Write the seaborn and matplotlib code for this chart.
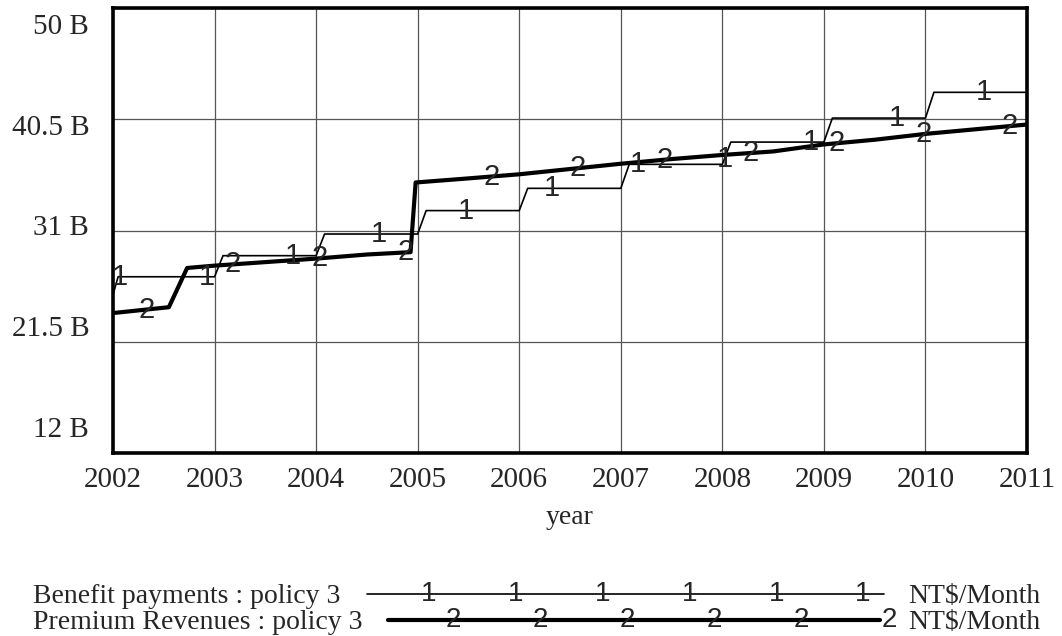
import matplotlib
matplotlib.use('Agg')
import matplotlib.pyplot as plt
from matplotlib.lines import Line2D
import seaborn as sns
import numpy as np

# Data (NT$/Month, in billions)
years = [2002, 2003, 2004, 2005, 2006, 2007, 2008, 2009, 2010]
benefit = [27.05, 28.85, 30.7, 32.7, 34.6, 36.65, 38.55, 40.6, 42.8]
benefit_start = 25.5

premium_t = [2002.0, 2002.55, 2002.73, 2003.0, 2003.5, 2004.0, 2004.5, 2004.93,
             2004.98, 2005.5, 2006.0, 2006.5, 2007.0, 2007.5, 2008.0, 2008.5,
             2009.0, 2009.5, 2010.0, 2010.5, 2011.0]
premium = [23.95, 24.45, 27.8, 28.0, 28.3, 28.6, 28.95, 29.15,
           35.1, 35.45, 35.8, 36.25, 36.7, 37.1, 37.45, 37.75,
           38.35, 38.75, 39.25, 39.65, 40.05]

y_ticks = [12, 21.5, 31, 40.5, 50]
y_labels = ['12 B', '21.5 B', '31 B', '40.5 B', '50 B']
x_ticks = list(range(2002, 2012))

serif = 'Liberation Serif'
sans = 'Liberation Sans'

sns.set_style('white')
plt.rcParams['font.family'] = [serif, 'DejaVu Sans']

fig = plt.figure(figsize=(10.62, 6.36), dpi=100)
ax = fig.add_axes([113 / 1062, 1 - 453 / 636, 914 / 1062, 445 / 636])

# benefit payments change once a year, with a one-month ramp (Vensim output)
bt = [2002.0, 2002.05]
bv = [benefit_start, benefit[0]]
for i in range(1, len(years)):
    bt += [years[i], years[i] + 1 / 12]
    bv += [benefit[i - 1], benefit[i]]
bt.append(2011.0)
bv.append(benefit[-1])

sns.lineplot(x=bt, y=bv, ax=ax, color='black', lw=1.2, sort=False, estimator=None)
sns.lineplot(x=premium_t, y=premium, ax=ax, color='black', lw=3.0, sort=False, estimator=None)

# numbered markers along the lines
t1 = 2002.07 + 0.85 * np.arange(11)
t2 = 2002.33 + 0.85 * np.arange(11)
for t, v in zip(t1, np.interp(t1, bt, bv)):
    ax.text(t, v, '1', ha='center', va='center', fontsize=21, family=sans)
for t, v in zip(t2, np.interp(t2, premium_t, premium)):
    ax.text(t, v, '2', ha='center', va='center', fontsize=21, family=sans)

ax.set_xlim(2002, 2011)
ax.set_ylim(12, 50)
ax.set_xticks(x_ticks)
ax.set_xticklabels([str(x) for x in x_ticks], fontsize=21)
ax.set_yticks(y_ticks)
ax.set_yticklabels([])
ax.tick_params(length=0, pad=10)
ax.grid(True, color='#555555', lw=0.9)
for s in ax.spines.values():
    s.set_color('black')
    s.set_linewidth(2.6)

# Vensim puts the value labels on an even spacing of their own
for frac, lab in zip(np.linspace(0.052, 0.957, 5), y_labels):
    ax.text(-0.026, frac, lab, transform=ax.transAxes, ha='right', va='center', fontsize=21)

ax.set_xlabel('year', fontsize=20, labelpad=9)
ax.set_ylabel('')

# legend at the bottom
W, H = 1062, 636
rows = [
    ('Benefit payments : policy 3', '1', 1.2, 367, 884, 429, 863, 603),
    ('Premium Revenues : policy 3', '2', 3.0, 388, 880, 453, 889, 629),
]
for label, num, lw, x0, x1, m0, m1, base in rows:
    yl = 1 - (base - 9) / H
    fig.text(33 / W, 1 - base / H, label, ha='left', va='baseline', fontsize=20)
    fig.add_artist(Line2D([x0 / W, x1 / W], [yl, yl], color='black', lw=lw))
    for mx in np.linspace(m0, m1, 6):
        fig.text(mx / W, yl, num, ha='center', va='center', fontsize=20, family=sans)
    fig.text(908 / W, 1 - base / H, 'NT$/Month', ha='left', va='baseline', fontsize=20)

fig.savefig('out.png', dpi=100)
